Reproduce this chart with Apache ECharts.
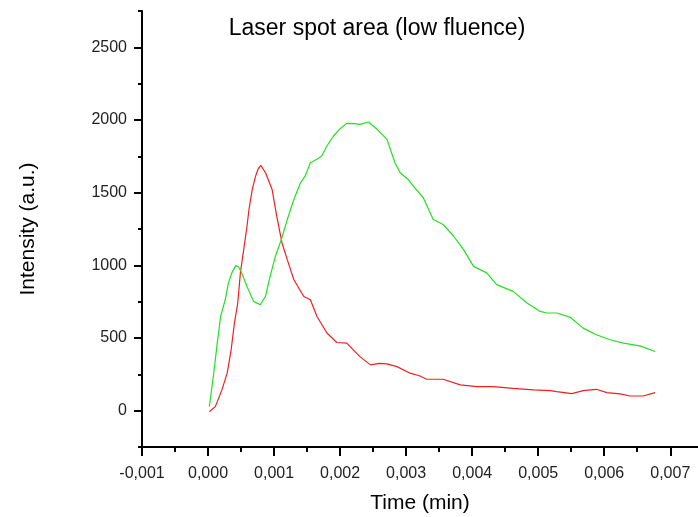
<!DOCTYPE html>
<html>
<head>
<meta charset="utf-8">
<script src="https://cdn.jsdelivr.net/npm/echarts@6/dist/echarts.min.js"></script>
<style>
  html, body { margin: 0; padding: 0; background: #fff; }
  #chart { width: 698px; height: 517px; }
</style>
</head>
<body>
<div id="chart"></div>
<script>
// Time axis (min) and intensity samples for the two traces
const redTime = [0.00002, 0.00011, 0.00021, 0.00029, 0.00035, 0.00040, 0.00045, 0.00049, 0.00054, 0.00059,
  0.00062, 0.00067, 0.00072, 0.00076, 0.00080, 0.00087, 0.00092, 0.00097, 0.00104, 0.00112,
  0.00120, 0.00130, 0.00145, 0.00155, 0.00165, 0.00180, 0.00195, 0.00210, 0.00230, 0.00246,
  0.00260, 0.00271, 0.00286, 0.00306, 0.00320, 0.00331, 0.00356, 0.00382, 0.00407, 0.00432,
  0.00462, 0.00493, 0.00518, 0.00528, 0.00551, 0.00568, 0.00588, 0.00604, 0.00624, 0.00639,
  0.00659, 0.00677];
const redIntensity = [-7, 28, 143, 258, 418, 603, 741, 948, 1108, 1269,
  1384, 1522, 1614, 1665, 1688, 1637, 1580, 1522, 1338, 1154,
  1039, 901, 786, 763, 648, 534, 469, 465, 372, 315,
  325, 322, 303, 258, 240, 216, 216, 177, 166, 166,
  154, 143, 138, 131, 117, 138, 147, 124, 115, 101,
  101, 124];

const greenTime = [0.00002, 0.00008, 0.00014, 0.00019, 0.00026, 0.00031, 0.00036, 0.00042, 0.00046, 0.00051,
  0.00059, 0.00069, 0.00079, 0.00087, 0.00094, 0.00102, 0.00111, 0.00120, 0.00130, 0.00140,
  0.00147, 0.00155, 0.00165, 0.00172, 0.00180, 0.00190, 0.00200, 0.00210, 0.00222, 0.00230,
  0.00243, 0.00256, 0.00271, 0.00283, 0.00291, 0.00303, 0.00311, 0.00326, 0.00341, 0.00356,
  0.00372, 0.00387, 0.00402, 0.00422, 0.00437, 0.00462, 0.00483, 0.00503, 0.00513, 0.00528,
  0.00548, 0.00568, 0.00588, 0.00609, 0.00629, 0.00654, 0.00677];
const greenIntensity = [28, 234, 465, 648, 763, 879, 948, 998, 990, 948,
  855, 752, 729, 786, 924, 1062, 1177, 1315, 1453, 1568,
  1614, 1706, 1730, 1752, 1821, 1890, 1940, 1977, 1975, 1970,
  1986, 1936, 1867, 1706, 1637, 1591, 1545, 1465, 1315, 1281,
  1200, 1108, 993, 948, 867, 821, 741, 683, 672, 672,
  644, 568, 522, 488, 465, 446, 407];

// Tick positions
const xMajorTicks = [-0.001, 0.000, 0.001, 0.002, 0.003, 0.004, 0.005, 0.006, 0.007];
const xMinorTicks = [-0.0005, 0.0005, 0.0015, 0.0025, 0.0035, 0.0045, 0.0055, 0.0065];
const yMajorTicks = [0, 500, 1000, 1500, 2000, 2500];
const yMinorTicks = [-250, 250, 750, 1250, 1750, 2250, 2750];

const pairs = (xs, ys) => xs.map((x, i) => [x, ys[i]]);
const font = '"Liberation Sans", Arial, sans-serif';
const axisColor = '#000';

const baseX = {
  type: 'value', min: -0.001, max: 0.00742, gridIndex: 0, position: 'bottom',
  splitLine: { show: false }
};
const baseY = {
  type: 'value', min: -250, max: 2750, gridIndex: 0, position: 'left',
  splitLine: { show: false }
};

const chart = echarts.init(document.getElementById('chart'), null, { renderer: 'canvas' });
chart.setOption({
  animation: false,
  backgroundColor: '#fff',
  title: {
    text: 'Laser spot area (low fluence)',
    left: 372, top: 12, textAlign: 'center',
    textStyle: { fontFamily: font, fontSize: 23, fontWeight: 'normal', color: '#000' }
  },
  grid: { left: 142, right: 0, top: 11, bottom: 70, containLabel: false, outerBoundsMode: 'none' },
  xAxis: [
    Object.assign({}, baseX, {
      name: 'Time (min)', nameLocation: 'middle', nameGap: 46,
      nameTextStyle: { fontFamily: font, fontSize: 21, color: '#000' },
      axisLine: { show: true, onZero: false, lineStyle: { color: axisColor, width: 2 } },
      axisTick: { show: true, inside: false, length: 9, customValues: xMajorTicks,
        lineStyle: { color: axisColor, width: 2 } },
      axisLabel: { show: true, margin: 19, customValues: xMajorTicks,
        fontFamily: font, fontSize: 16, color: '#222',
        formatter: v => v.toFixed(3).replace('.', ',') }
    }),
    Object.assign({}, baseX, {
      axisLine: { show: false, onZero: false },
      axisTick: { show: true, length: 5, customValues: xMinorTicks,
        lineStyle: { color: axisColor, width: 2 } },
      axisLabel: { show: false }
    })
  ],
  yAxis: [
    Object.assign({}, baseY, {
      name: 'Intensity (a.u.)', nameLocation: 'middle', nameGap: 103,
      nameTextStyle: { fontFamily: font, fontSize: 21, color: '#000' },
      axisLine: { show: true, onZero: false, lineStyle: { color: axisColor, width: 2 } },
      axisTick: { show: true, inside: false, length: 8, customValues: yMajorTicks,
        lineStyle: { color: axisColor, width: 2 } },
      axisLabel: { show: true, margin: 15, customValues: yMajorTicks,
        fontFamily: font, fontSize: 16, color: '#222',
        formatter: v => String(v) }
    }),
    Object.assign({}, baseY, {
      axisLine: { show: false, onZero: false },
      axisTick: { show: true, length: 4, customValues: yMinorTicks,
        lineStyle: { color: axisColor, width: 2 } },
      axisLabel: { show: false }
    })
  ],
  series: [
    {
      type: 'line', name: 'red', xAxisIndex: 0, yAxisIndex: 0,
      data: pairs(redTime, redIntensity),
      showSymbol: false, smooth: false,
      lineStyle: { color: '#f02020', width: 1.2 }
    },
    {
      type: 'line', name: 'green', xAxisIndex: 0, yAxisIndex: 0,
      data: pairs(greenTime, greenIntensity),
      showSymbol: false, smooth: false,
      lineStyle: { color: '#22e022', width: 1.2 }
    }
  ]
});
</script>
</body>
</html>
